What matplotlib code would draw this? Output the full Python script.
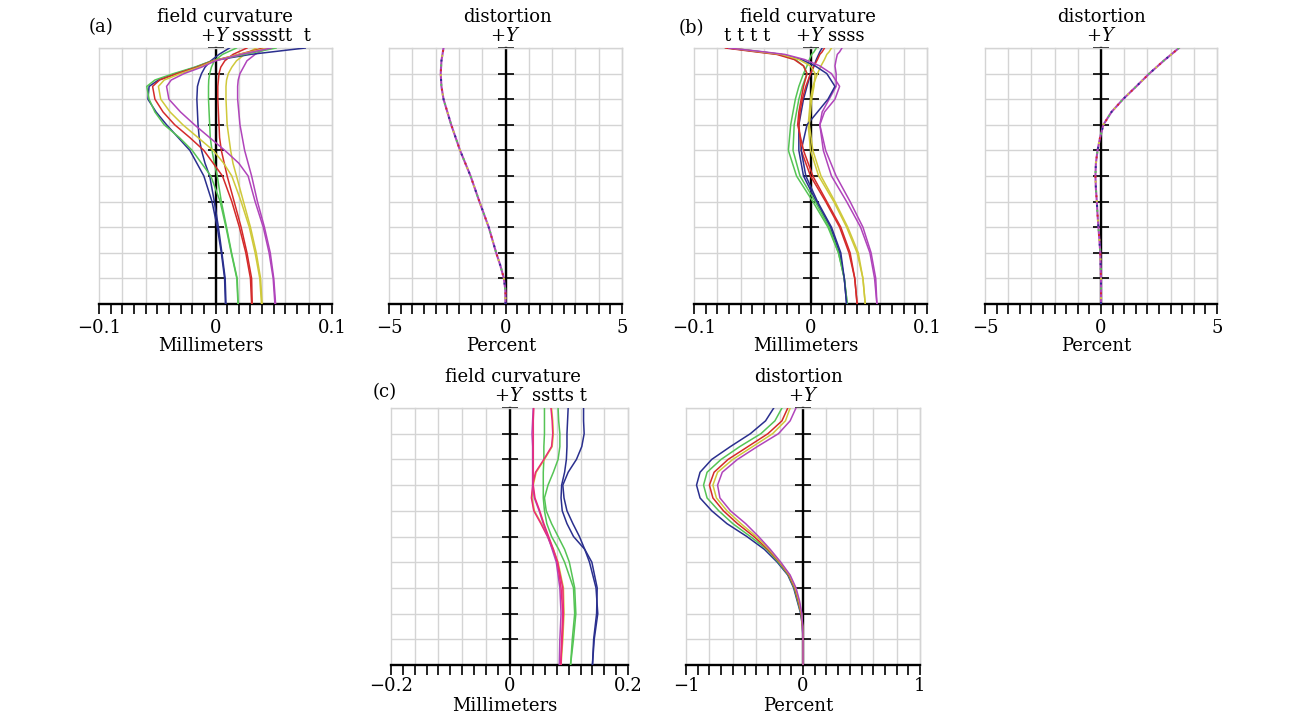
import numpy as np
import matplotlib
matplotlib.use('Agg')
import matplotlib.pyplot as plt

plt.rcParams['font.family'] = 'DejaVu Serif'
plt.rcParams['mathtext.fontset'] = 'dejavuserif'
plt.rcParams['font.size'] = 13

# colours of the wavelengths
BLUE = '#2a2f8e'
GREEN = '#55c455'
RED = '#d42a2a'
YELLOW = '#cfc93a'
MAGENTA = '#b044bb'
PINK = '#ec2a78'
GRID = '#d4d4d4'

# ---------------- (a) field curvature, mm ----------------
Y_A = [0, .1, .2, .3, .4, .5, .55, .6, .65, .7, .75, .8, .85, .875, .9, .925, .95, .975, 1.0]
A_BLUE_S = [.009, .0083, .0055, .0025, -.001, -.005, -.009, -.012, -.014, -.015, -.0155, -.016, -.0155, -.014, -.012, -.009, -.004, .003, .012]
A_GREEN_S = [.0195, .0186, .0138, .0095, .005, .0015, -.001, -.003, -.0045, -.005, -.0055, -.006, -.006, -.0058, -.005, -.0035, -.001, .006, .018]
A_RED_S = [.0315, .031, .027, .022, .016, .010, .0075, .005, .0035, .003, .0025, .002, .002, .0025, .003, .0045, .008, .015, .027]
A_YELLOW_S = [.040, .0387, .035, .030, .024, .018, .015, .013, .0115, .010, .0095, .009, .009, .0095, .011, .014, .018, .025, .035]
A_MAGENTA_S = [.0516, .050, .047, .042, .036, .031, .028, .025, .023, .021, .020, .019, .019, .0195, .021, .024, .027, .034, .044]
A_BLUE_T = [.0085, .0078, .005, .0015, -.003, -.010, -.016, -.022, -.032, -.042, -.051, -.058, -.057, -.049, -.034, -.017, -.003, .030, .077]
A_GREEN_T = [.0193, .0183, .0135, .009, .004, -.004, -.012, -.020, -.031, -.044, -.052, -.057, -.059, -.052, -.036, -.018, -.003, .025, .052]
A_RED_T = [.031, .030, .026, .0205, .014, .006, -.002, -.010, -.022, -.035, -.045, -.052, -.054, -.048, -.033, -.016, -.002, .020, .041]
A_YELLOW_T = [.0395, .038, .034, .029, .022, .014, .007, -.002, -.015, -.028, -.039, -.047, -.049, -.044, -.030, -.014, -.001, .020, .045]
A_MAGENTA_T = [.051, .0495, .046, .041, .034, .028, .020, .008, -.005, -.018, -.030, -.040, -.042, -.038, -.027, -.012, .000, .022, .048]

# ---------------- (a) distortion, percent ----------------
Y_AD = [0, .05, .1, .15, .2, .3, .4, .5, .6, .7, .8, .85, .9, .95, 1.0]
A_DIST = [0, 0, -.07, -.22, -.40, -.72, -1.12, -1.5, -1.95, -2.33, -2.66, -2.75, -2.78, -2.75, -2.66]

# ---------------- (b) field curvature, mm ----------------
Y_B = [0, .1, .2, .3, .4, .5, .6, .7, .75, .8, .85, .9, .93, .955, .975, .985, 1.0]
B_GREEN_S = [.0316, .029, .024, .015, .002, -.012, -.019, -.017, -.015, -.013, -.010, -.006, -.003, -.001, .001, .003, .005]
B_BLUE_S = [.031, .029, .025, .017, .005, -.006, -.010, -.010, -.008, -.006, -.003, .000, .003, .005, .007, .008, .010]
B_RED_S = [.040, .038, .033, .025, .013, .000, -.008, -.010, -.009, -.007, -.004, .000, .003, .006, .008, .010, .012]
B_YELLOW_S = [.047, .045, .040, .031, .020, .007, .000, -.002, -.001, .000, .002, .006, .009, .012, .014, .016, .018]
B_MAGENTA_S = [.057, .055, .051, .043, .031, .018, .011, .008, .010, .016, .022, .022, .021, .022, .023, .025, .027]
B_GREEN_T = [.0316, .029, .024, .016, .004, -.009, -.015, -.014, -.012, -.010, -.007, -.003, -.006, -.013, -.027, -.045, -.071]
B_BLUE_T = [.031, .029, .026, .018, .006, -.004, -.008, -.003, .006, .015, .021, .014, .004, -.008, -.025, -.042, -.070]
B_RED_T = [.040, .038, .034, .026, .014, .002, -.006, -.011, -.010, -.008, -.006, -.003, -.006, -.014, -.029, -.047, -.073]
B_YELLOW_T = [.047, .045, .041, .032, .021, .009, .002, -.001, .000, .001, .003, .004, .000, -.010, -.025, -.043, -.068]
B_MAGENTA_T = [.057, .056, .052, .045, .034, .022, .013, .008, .012, .021, .025, .018, .008, -.005, -.022, -.040, -.070]

# ---------------- (b) distortion, percent ----------------
Y_BD = [0, .1, .2, .25, .3, .35, .4, .45, .5, .55, .6, .65, .7, .75, .8, .85, .9, .95, 1.0]
B_DIST = [0, 0, -.03, -.07, -.11, -.15, -.18, -.22, -.24, -.22, -.15, -.04, .10, .45, .95, 1.52, 2.08, 2.7, 3.36]

# ---------------- (c) field curvature, mm ----------------
Y_C = [0, .1, .2, .3, .4, .45, .5, .55, .6, .65, .7, .75, .8, .85, .9, .95, 1.0]
C_BLUE_A = [.140, .142, .147, .148, .139, .127, .108, .097, .089, .087, .088, .093, .096, .097, .097, .098, .099]
C_BLUE_B = [.140, .143, .149, .146, .135, .127, .118, .107, .097, .092, .090, .099, .113, .122, .126, .125, .125]
C_GREEN_A = [.103, .106, .110, .108, .093, .083, .071, .063, .059, .057, .057, .057, .058, .058, .059, .059, .059]
C_GREEN_B = [.103, .108, .112, .110, .101, .093, .082, .071, .062, .059, .065, .074, .082, .085, .085, .083, .082]
C_RED_S = [.087, .088, .090, .087, .081, .074, .066, .058, .051, .043, .040, .040, .040, .040, .040, .040, .041]
C_MAGENTA_S = [.084, .085, .087, .085, .079, .072, .065, .057, .050, .042, .039, .039, .039, .039, .038, .039, .040]
C_YELLOW_T = [.087, .090, .092, .091, .082, .074, .065, .054, .042, .038, .040, .045, .059, .072, .074, .073, .071]
C_PINK_T = [.086, .089, .091, .090, .081, .073, .064, .053, .041, .037, .039, .044, .058, .071, .073, .072, .070]

# ---------------- (c) distortion, percent ----------------
Y_CD = [0, .1, .15, .2, .25, .3, .35, .4, .45, .5, .55, .6, .65, .7, .75, .8, .85, .9, .95, 1.0]
C_DIST_BLUE = [0, 0, -.005, -.02, -.05, -.08, -.13, -.22, -.33, -.48, -.65, -.78, -.88, -.91, -.88, -.78, -.62, -.45, -.32, -.25]
C_DIST_GREEN = [0, 0, -.004, -.017, -.045, -.075, -.125, -.21, -.31, -.45, -.60, -.72, -.82, -.85, -.82, -.70, -.54, -.36, -.24, -.18]
C_DIST_RED = [0, 0, -.004, -.015, -.04, -.07, -.12, -.20, -.30, -.42, -.56, -.68, -.77, -.80, -.76, -.64, -.47, -.30, -.18, -.13]
C_DIST_YELLOW = [0, 0, -.003, -.012, -.035, -.065, -.115, -.195, -.29, -.40, -.53, -.65, -.74, -.77, -.73, -.60, -.43, -.26, -.15, -.11]
C_DIST_MAGENTA = [0, 0, -.003, -.01, -.03, -.06, -.11, -.19, -.28, -.38, -.49, -.62, -.71, -.73, -.69, -.56, -.39, -.21, -.11, -.06]

TICKS_FC_AB = ['\u22120.1', '0', '0.1']
TICKS_DIST_AB = ['\u22125', '0', '5']
TICKS_FC_C = ['\u22120.2', '0', '0.2']
TICKS_DIST_C = ['\u22121', '0', '1']


def setup_panel(ax, lim, tick_text, xlabel, title, title_x=0.5, xlabel_y=-0.165, pad=4):
    ax.set_xlim(-lim, lim)
    ax.set_ylim(0, 1)
    major = np.linspace(-lim, lim, 11)
    ax.set_xticks(major)
    ax.set_xticks(np.linspace(-lim, lim, 21), minor=True)
    labels = [''] * 11
    labels[0], labels[5], labels[10] = tick_text
    ax.set_xticklabels(labels)
    ax.set_yticks(np.linspace(0, 1, 11))
    ax.set_yticklabels([])
    ax.grid(True, which='major', color=GRID, lw=1.0)
    for gl in ax.get_xgridlines() + ax.get_ygridlines():
        gl.set_clip_on(False)
    ax.set_axisbelow(True)
    for side in ('top', 'right'):
        ax.spines[side].set_color(GRID)
        ax.spines[side].set_linewidth(1.0)
    ax.spines['left'].set_position(('data', 0))
    ax.spines['left'].set_linewidth(1.7)
    ax.spines['bottom'].set_linewidth(1.7)
    ax.tick_params(axis='x', which='both', direction='out', length=7, width=1.2,
                   pad=pad, labelsize=13)
    ax.tick_params(axis='y', which='major', direction='inout', length=12, width=1.2)
    ax.text(0.48, xlabel_y, xlabel, transform=ax.transAxes, ha='center', va='center', fontsize=13)
    ax.text(title_x, 1.122, title, transform=ax.transAxes, ha='center', va='center', fontsize=13)
    ax.text(0, 1.045, '+$Y$', transform=ax.get_xaxis_transform(), ha='center', va='center',
            fontsize=13)


def draw_multicolor(ax, x, y, colors):
    # overlapping curves: solid magenta with sparse specks of the other colours
    ax.plot(x, y, color=colors[-1], lw=1.5, zorder=3)
    for k, c in enumerate(colors[:-1]):
        ax.plot(x, y, color=c, lw=1.4, ls=(k * 2.5, (1.0, 9.0)), zorder=4)


fig = plt.figure(figsize=(12.94, 7.13), dpi=100)
W, H = 1294, 713


def add_panel(left, top, right, bottom):
    return fig.add_axes([left / W, 1 - bottom / H, (right - left) / W, (bottom - top) / H])


# (a)
ax = add_panel(99, 48, 332, 304)
setup_panel(ax, 0.1, TICKS_FC_AB, 'Millimeters', 'field curvature', title_x=0.54)
for xs, c in [(A_BLUE_S, BLUE), (A_GREEN_S, GREEN), (A_RED_S, RED), (A_YELLOW_S, YELLOW), (A_MAGENTA_S, MAGENTA),
              (A_BLUE_T, BLUE), (A_GREEN_T, GREEN), (A_RED_T, RED), (A_YELLOW_T, YELLOW), (A_MAGENTA_T, MAGENTA)]:
    ax.plot(xs, Y_A, color=c, lw=1.1, zorder=3)
ax.text(0.014, 1.045, 'ssssstt  t', transform=ax.get_xaxis_transform(), ha='left', va='center', fontsize=13)
ax.text(0.01, 1.082, '(a)', transform=ax.transAxes, ha='center', va='center', fontsize=13)

ax = add_panel(389, 48, 622, 304)
setup_panel(ax, 5, TICKS_DIST_AB, 'Percent', 'distortion', title_x=0.51)
draw_multicolor(ax, A_DIST, Y_AD, [BLUE, GREEN, RED, YELLOW, MAGENTA])

# (b)
ax = add_panel(694, 48, 927, 304)
setup_panel(ax, 0.1, TICKS_FC_AB, 'Millimeters', 'field curvature', title_x=0.49)
for xs, c in [(B_GREEN_S, GREEN), (B_BLUE_S, BLUE), (B_RED_S, RED), (B_YELLOW_S, YELLOW), (B_MAGENTA_S, MAGENTA),
              (B_GREEN_T, GREEN), (B_BLUE_T, BLUE), (B_RED_T, RED), (B_YELLOW_T, YELLOW), (B_MAGENTA_T, MAGENTA)]:
    ax.plot(xs, Y_B, color=c, lw=1.1, zorder=3)
ax.text(0.0149, 1.045, 'ssss', transform=ax.get_xaxis_transform(), ha='left', va='center', fontsize=13)
ax.text(-0.054, 1.045, 't t t t', transform=ax.get_xaxis_transform(), ha='center', va='center', fontsize=13)
ax.text(-0.01, 1.078, '(b)', transform=ax.transAxes, ha='center', va='center', fontsize=13)

ax = add_panel(985, 48, 1217, 304)
setup_panel(ax, 5, TICKS_DIST_AB, 'Percent', 'distortion')
draw_multicolor(ax, B_DIST, Y_BD, [BLUE, GREEN, RED, YELLOW, MAGENTA])

# (c)
ax = add_panel(391, 408, 628, 665)
setup_panel(ax, 0.2, TICKS_FC_C, 'Millimeters', 'field curvature', title_x=0.514,
            xlabel_y=-0.158, pad=1.5)
for xs, c in [(C_BLUE_A, BLUE), (C_BLUE_B, BLUE), (C_GREEN_A, GREEN), (C_GREEN_B, GREEN),
              (C_YELLOW_T, YELLOW), (C_PINK_T, PINK), (C_MAGENTA_S, MAGENTA), (C_RED_S, PINK)]:
    ax.plot(xs, Y_C, color=c, lw=1.1, zorder=3)
ax.text(0.0374, 1.045, 'sstts t', transform=ax.get_xaxis_transform(), ha='left', va='center', fontsize=13)
ax.text(-0.026, 1.062, '(c)', transform=ax.transAxes, ha='center', va='center', fontsize=13)

ax = add_panel(686, 408, 920, 665)
setup_panel(ax, 1, TICKS_DIST_C, 'Percent', 'distortion', title_x=0.48, xlabel_y=-0.158, pad=1.5)
for xs, c in [(C_DIST_BLUE, BLUE), (C_DIST_GREEN, GREEN), (C_DIST_RED, RED),
              (C_DIST_YELLOW, YELLOW), (C_DIST_MAGENTA, MAGENTA)]:
    ax.plot(xs, Y_CD, color=c, lw=1.1, zorder=3)

fig.savefig('out.png', dpi=100)
